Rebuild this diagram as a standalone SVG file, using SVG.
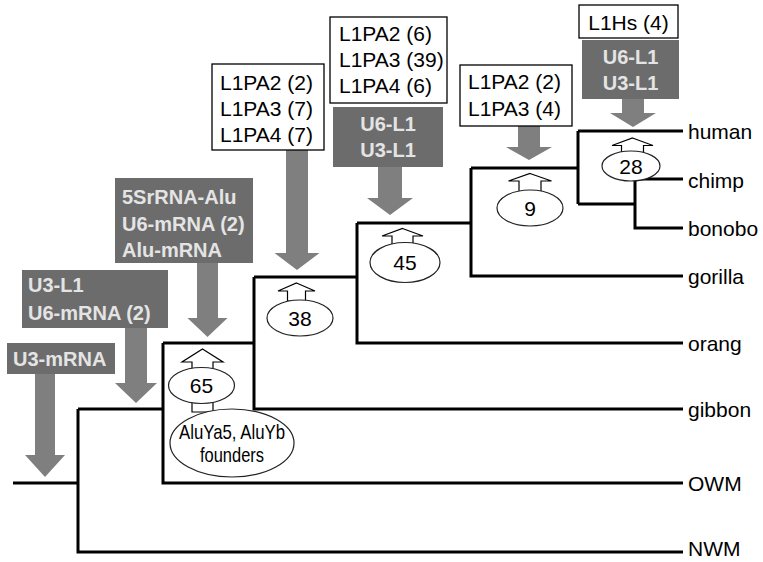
<svg xmlns="http://www.w3.org/2000/svg" width="763" height="562" viewBox="0 0 763 562">
<style>
text { font-family: "Liberation Sans", Arial, sans-serif; }
.tree { stroke:#000; stroke-width:3; fill:none; }
.lbl { font-size:21px; fill:#000; }
.gbox { fill:#6c6c6c; }
.gtxt { font-size:20px; font-weight:bold; fill:#e4e4e4; }
.wbox { fill:#fff; stroke:#000; stroke-width:1.3; }
.wtxt { font-size:21px; fill:#000; }
.garrow { fill:#7f7f7f; }
.harrow { fill:#fff; stroke:#000; stroke-width:1.2; }
.ell { fill:#fff; stroke:#222; stroke-width:1.2; }
.num { font-size:21px; fill:#000; text-anchor:middle; }
.mid { text-anchor:middle; }
</style>
<rect width="763" height="562" fill="#fff"/>

<g id="connectors">
<path class="tree" d="M13,483 H78 M78,409 V552 H683 M78,409 H163 M163,343 V483 H683 M163,343 H254 M254,277 V409 H683 M254,277 H357 M357,223 V343 H683 M357,223 H471 M471,168 V276 H683 M471,168 H578 M578,131 V204 M578,131 H683 M578,204 H635 M635,179 V228 H683 M635,179 H683"/>
<polygon class="garrow" points="35,373 55,373 55,455 65,455 45,477 25,455 35,455"/>
<polygon class="garrow" points="125,328 147,328 147,383 157,383 136,403 115,383 125,383"/>
<polygon class="garrow" points="197,263 218,263 218,318 227.5,318 207.5,337 187.5,318 197,318"/>
<polygon class="garrow" points="286,150 308,150 308,253 319.5,253 297,270 274.5,253 286,253"/>
<polygon class="garrow" points="378,167 402,167 402,198 413,198 390,215 367,198 378,198"/>
<polygon class="garrow" points="518,126 540,126 540,147 552,147 529,160 506,147 518,147"/>
<polygon class="garrow" points="622,99 644,99 644,113 656,113 633,127 610,113 622,113"/>
</g>

<g id="labels">
<text class="lbl" x="688" y="139">human</text>
<text class="lbl" x="688" y="188">chimp</text>
<text class="lbl" x="688" y="236">bonobo</text>
<text class="lbl" x="688" y="284">gorilla</text>
<text class="lbl" x="688" y="351">orang</text>
<text class="lbl" x="688" y="417">gibbon</text>
<text class="lbl" x="688" y="491">OWM</text>
<text class="lbl" x="688" y="556">NWM</text>
</g>

<g id="box-u3-mrna">
<rect class="gbox" x="7" y="343" width="108" height="31"/>
<text class="gtxt" x="13" y="366">U3-mRNA</text>
</g>
<g id="box-u3-l1-u6">
<rect class="gbox" x="22" y="270" width="146" height="58"/>
<text class="gtxt" x="28" y="292">U3-L1</text>
<text class="gtxt" x="28" y="320">U6-mRNA (2)</text>
</g>
<g id="box-5s">
<rect class="gbox" x="115" y="178" width="138" height="85"/>
<text class="gtxt" x="122" y="204">5SrRNA-Alu</text>
<text class="gtxt" x="122" y="231">U6-mRNA (2)</text>
<text class="gtxt" x="122" y="257">Alu-mRNA</text>
</g>
<g id="box-l1pa-1">
<rect class="wbox" x="212" y="64" width="112" height="86"/>
<text class="wtxt" x="220" y="90">L1PA2 (2)</text>
<text class="wtxt" x="220" y="116">L1PA3 (7)</text>
<text class="wtxt" x="220" y="142">L1PA4 (7)</text>
</g>
<g id="box-l1pa-2">
<rect class="wbox" x="330" y="17" width="117" height="86"/>
<text class="wtxt" x="339" y="41">L1PA2 (6)</text>
<text class="wtxt" x="339" y="67">L1PA3 (39)</text>
<text class="wtxt" x="339" y="93">L1PA4 (6)</text>
</g>
<g id="box-u6-l1-1">
<rect class="gbox" x="333" y="107" width="110" height="60"/>
<text class="gtxt mid" x="388" y="131">U6-L1</text>
<text class="gtxt mid" x="388" y="157">U3-L1</text>
</g>
<g id="box-l1pa-3">
<rect class="wbox" x="460" y="65" width="112" height="61"/>
<text class="wtxt" x="468" y="89">L1PA2 (2)</text>
<text class="wtxt" x="468" y="116">L1PA3 (4)</text>
</g>
<g id="box-l1hs">
<rect class="wbox" x="579" y="5" width="99" height="33"/>
<text class="wtxt mid" x="628.5" y="30">L1Hs (4)</text>
</g>
<g id="box-u6-l1-2">
<rect class="gbox" x="582" y="40" width="97" height="59"/>
<text class="gtxt mid" x="630.5" y="64">U6-L1</text>
<text class="gtxt mid" x="630.5" y="90">U3-L1</text>
</g>

<g id="node-65">
<polygon class="harrow" points="202.5,349 223,362 213,362 213,412 192,412 192,362 182,362"/>
<ellipse class="ell" cx="201.5" cy="385.5" rx="33" ry="18"/>
<text class="num" x="201.5" y="393">65</text>
</g>
<g id="node-aluy">
<ellipse class="ell" cx="232" cy="443" rx="62" ry="34"/>
<text class="mid" x="232" y="439" font-size="21" textLength="106" lengthAdjust="spacingAndGlyphs">AluYa5, AluYb</text>
<text class="mid" x="232" y="462" font-size="21" textLength="64" lengthAdjust="spacingAndGlyphs">founders</text>
</g>
<g id="node-38">
<polygon class="harrow" points="296.5,283 315,291 305.5,291 305.5,301 287.5,301 287.5,291 278,291"/>
<ellipse class="ell" cx="300" cy="318" rx="33" ry="18"/>
<text class="num" x="300" y="325.5">38</text>
</g>
<g id="node-45">
<polygon class="harrow" points="402.5,228.5 423,236 413,236 413,245 392,245 392,236 382,236"/>
<ellipse class="ell" cx="405" cy="262.5" rx="35" ry="20"/>
<text class="num" x="405" y="270">45</text>
</g>
<g id="node-9">
<polygon class="harrow" points="530,173.5 551.5,181 541,181 541,192 519,192 519,181 508.5,181"/>
<ellipse class="ell" cx="530" cy="208" rx="33" ry="18"/>
<text class="num" x="530" y="215.5">9</text>
</g>
<g id="node-28">
<polygon class="harrow" points="632.5,138 653,145.5 643.5,145.5 643.5,153 621.5,153 621.5,145.5 612,145.5"/>
<ellipse class="ell" cx="631" cy="166" rx="29" ry="15"/>
<text class="num" x="631" y="173.5">28</text>
</g>
</svg>
